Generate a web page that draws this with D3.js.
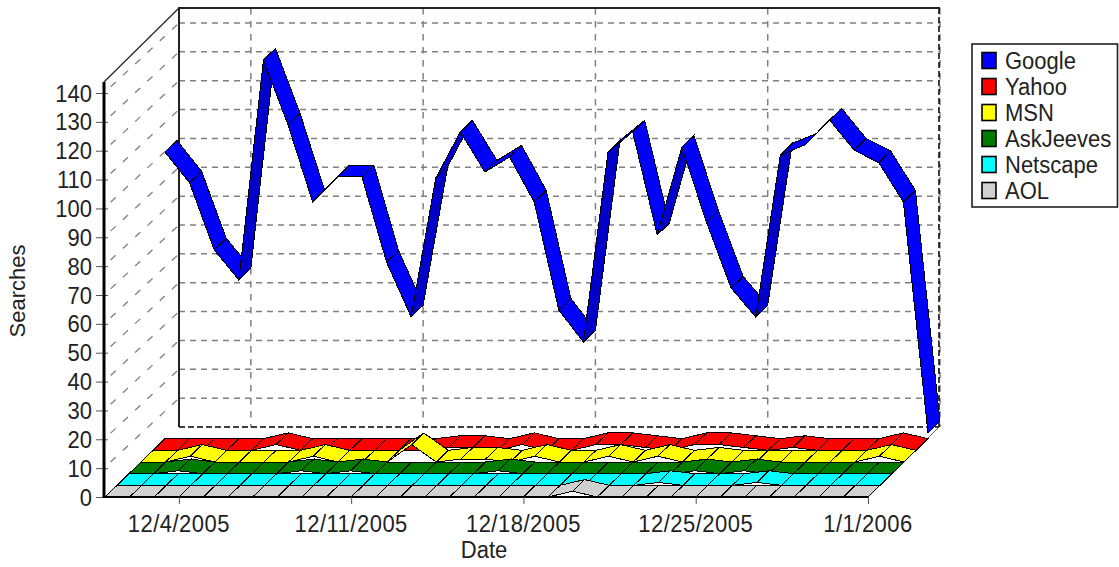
<!DOCTYPE html>
<html><head><meta charset="utf-8">
<style>html,body{margin:0;padding:0;background:#fff;overflow:hidden}svg{display:block}</style>
<script src="https://cdn.jsdelivr.net/npm/d3@7/dist/d3.min.js"></script>
</head><body><svg id="c" width="1119" height="567"></svg>
<script>
const seriesNames = ["Google","Yahoo","MSN","AskJeeves","Netscape","AOL"];
const seriesColors = ["#0000ff","#ff0000","#ffff00","#007b00","#00ffff","#d0d0d0"];
const google = [99.3,88.6,65.4,55,131.2,108.7,82,90.7,90.7,61.2,42.2,90.3,106.3,92.4,97.6,82,44.6,33.5,99.3,106.3,70.6,101,75,52.2,42.2,98.3,101.8,110.4,100,95.6,82,2];
const yahoo = [0,0,0,0,0,2,0,0,0,0,0,0,1,1,0,2,0,0,2,2,1,0,2,2,1,0,1,0,0,0,2,0];
const msn = [0,0,2,0,0,0,0,2,0,0,0,6,0,1,1,0,2,0,0,2,0,2,0,1,0,0,0,0,0,0,2,0];
const askJeeves = [0,0,1,0,0,0,0,1,0,1,0,0,0,0,0,1,0,0,0,0,0,0,0,1,0,1,0,0,0,0,0,0];
const netscape = [0,0,0,0,0,0,0,0,0,0,0,0,0,0,0,0,0,0,0,0,0,0,1,0,0,0,1,0,0,0,0,0];
const aol = [0,0,0,0,0,0,0,0,0,0,0,0,0,0,0,0,0,0,0,2,0,0,0,0,0,0,0,0,0,0,0,0];
const seriesValues = [google,yahoo,msn,askJeeves,netscape,aol];
const dateTickIdx = [3,10,17,24,31];
const dateTickLabels = ["12/4/2005","12/11/2005","12/18/2005","12/25/2005","1/1/2006"];
const yTicks = d3.range(0,141,10);

const FONT = "'Liberation Sans',Arial,sans-serif";
const svg = d3.select("#c");
const x = d3.scaleLinear().domain([0,31]).range([105,868]);
const y = d3.scaleLinear().domain([0,140]).range([497,93]);
const DX = 72, DY = 70, N = seriesNames.length;
const wall = {l:179,r:939,t:8,b:427,fl:104,ft:82,fb:497};
const px = (i,d)=>x(i)+d*DX, py = (v,d)=>y(v)-d*DY;

function label(g,t,xp,yp,anchor,sp){
  return g.append("text").text(t).attr("text-anchor",anchor).attr("font-family",FONT).attr("font-size",22).attr("fill","#222")
    .attr("letter-spacing",sp||0)
    .attr("transform",`translate(${xp},${yp}) scale(1,1.1)`);
}

// walls and grid
const grid = svg.append("g").attr("fill","none");
yTicks.filter(v=>v>0).forEach(v=>{
  grid.append("line").attr("x1",wall.l).attr("x2",wall.r).attr("y1",py(v,1)).attr("y2",py(v,1))
    .attr("stroke","#808080").attr("stroke-width",1.5).attr("stroke-dasharray","6,5");
  grid.append("line").attr("x1",wall.fl).attr("x2",wall.l).attr("y1",y(v)).attr("y2",py(v,1))
    .attr("stroke","#808080").attr("stroke-width",1.3).attr("stroke-dasharray","7,9.8").attr("stroke-dashoffset",-9);
});
dateTickIdx.forEach(i=>{
  grid.append("line").attr("x1",px(i,1)).attr("x2",px(i,1)).attr("y1",wall.t).attr("y2",wall.b)
    .attr("stroke","#808080").attr("stroke-width",1.5).attr("stroke-dasharray","6.5,6.5");
});
grid.append("line").attr("x1",wall.l).attr("x2",wall.r).attr("y1",wall.b).attr("y2",wall.b).attr("stroke","#000").attr("stroke-width",1.5).attr("stroke-dasharray","6,3");
grid.append("line").attr("x1",wall.r).attr("x2",wall.r).attr("y1",wall.t).attr("y2",wall.b).attr("stroke","#000").attr("stroke-width",1.5).attr("stroke-dasharray","6,3");
grid.append("line").attr("x1",wall.l).attr("x2",wall.l).attr("y1",wall.t).attr("y2",wall.b).attr("stroke","#222").attr("stroke-width",2);
grid.append("line").attr("x1",wall.l-1).attr("x2",wall.r+1).attr("y1",wall.t).attr("y2",wall.t).attr("stroke","#222").attr("stroke-width",2);
grid.append("line").attr("x1",wall.fl).attr("x2",wall.l).attr("y1",wall.ft).attr("y2",wall.t).attr("stroke","#222").attr("stroke-width",1.2);
grid.append("line").attr("x1",x(31)).attr("x2",wall.r).attr("y1",wall.fb).attr("y2",wall.b).attr("stroke","#555").attr("stroke-width",1);

// ribbons, back to front
const marks = svg.append("g").attr("stroke","#000").attr("stroke-width",1).attr("stroke-linejoin","miter").attr("shape-rendering","crispEdges");
seriesValues.forEach((vals,s)=>{
  const k = N-1-s, d0 = k/N, d1 = (k+1)/N;
  const segs = d3.pairs(vals.map((v,i)=>({i,v})));
  marks.append("g").selectAll("polygon").data(segs).join("polygon")
    .attr("points",([a,b])=>[[px(a.i,d0),py(a.v,d0)],[px(b.i,d0),py(b.v,d0)],[px(b.i,d1),py(b.v,d1)],[px(a.i,d1),py(a.v,d1)]].map(p=>p.join(",")).join(" "))
    .attr("fill",([a,b])=>{
      const steep = (y(a.v)-y(b.v))/(x(b.i)-x(a.i)) > DY/DX;
      return steep ? d3.rgb(seriesColors[s]).darker(0.65).formatHex() : seriesColors[s];
    });
});

// axes
const axY = svg.append("g").attr("transform",`translate(${wall.fl},0)`)
  .call(d3.axisLeft(y).tickValues(yTicks).tickSize(8).tickFormat(""));
axY.select(".domain").remove();
axY.selectAll("line").attr("stroke","#555").attr("x2",-8).clone().attr("x2",4);
svg.append("line").attr("x1",wall.fl).attr("x2",wall.fl).attr("y1",wall.ft).attr("y2",wall.fb+1).attr("stroke","#000").attr("stroke-width",3);
svg.append("line").attr("x1",wall.fl-1).attr("x2",x(31)).attr("y1",wall.fb).attr("y2",wall.fb).attr("stroke","#000").attr("stroke-width",2);
const axX = svg.append("g").attr("transform",`translate(0,${wall.fb})`)
  .call(d3.axisBottom(x).tickValues(dateTickIdx).tickSize(7).tickFormat(""));
axX.select(".domain").remove();
axX.selectAll("line").attr("stroke","#555");

const labels = svg.append("g");
yTicks.forEach(v=>label(labels,String(v),92,y(v)+8.5,"end"));
dateTickIdx.forEach((i,n)=>label(labels,dateTickLabels[n],x(i),532,"middle",0.5));
label(labels,"Date",484,558,"middle");
labels.append("text").text("Searches").attr("text-anchor","middle").attr("font-family",FONT).attr("font-size",22).attr("fill","#222")
  .attr("transform","translate(25,291) rotate(-90)");

// legend
const lg = svg.append("g");
lg.append("rect").attr("x",972).attr("y",44).attr("width",145.5).attr("height",163).attr("fill","#fff").attr("stroke","#222").attr("stroke-width",1.6);
const ly = d3.scaleBand().domain(seriesNames).range([47.5,203.5]);
seriesNames.forEach((n,i)=>{
  lg.append("rect").attr("x",982).attr("y",ly(n)+5).attr("width",14).attr("height",16).attr("fill",seriesColors[i]).attr("stroke","#000").attr("stroke-width",1.6);
  label(lg,n,1005,ly(n)+21,"start");
});
</script></body></html>
